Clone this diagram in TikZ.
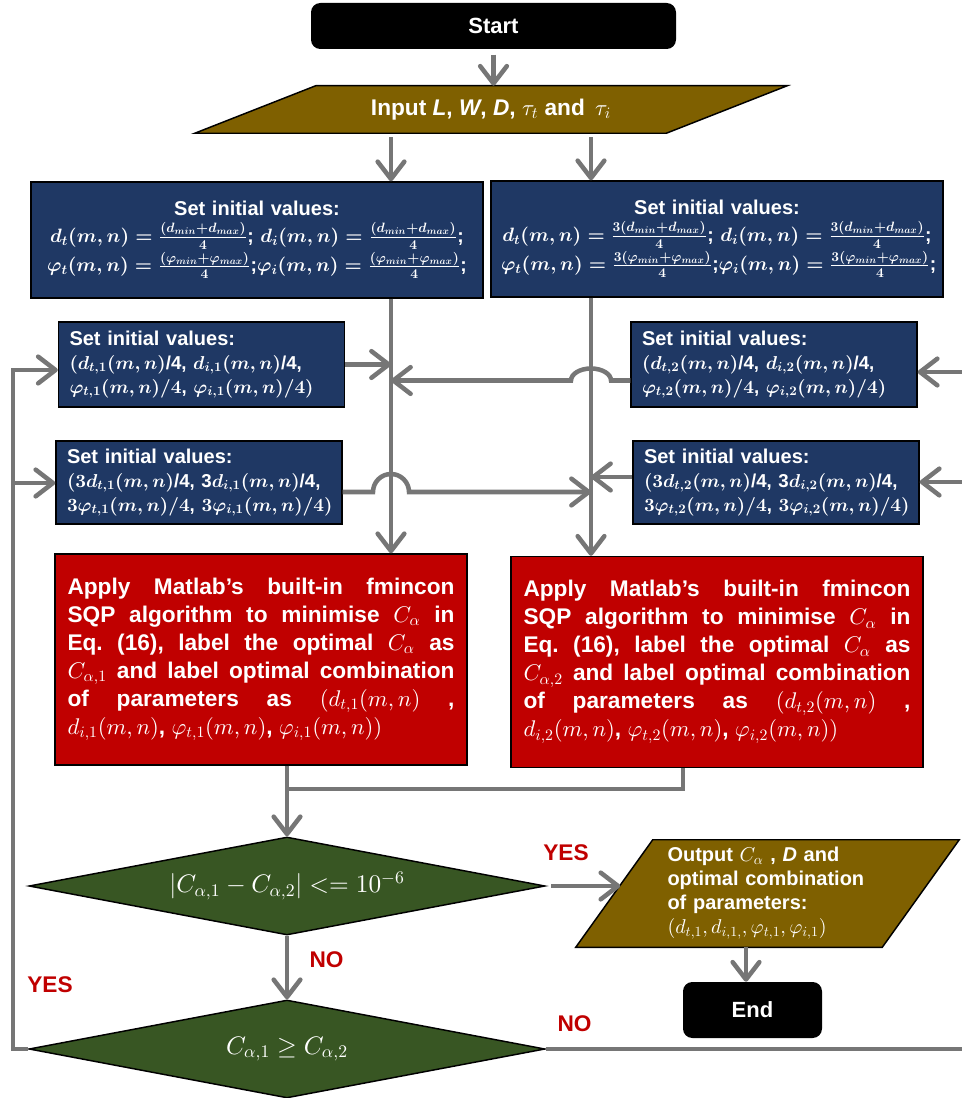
\documentclass[tikz,border=0pt]{standalone}
\usepackage{amsmath}
\usepackage[no-math]{fontspec}
\setmainfont{Liberation Sans}
\DeclareFontShape{OML}{cmm}{m}{it}{<->cmmi10}{}
\DeclareFontShape{OML}{cmm}{b}{it}{<->cmmib10}{}
\DeclareFontShape{OMS}{cmsy}{m}{n}{<->cmsy10}{}
\DeclareFontShape{OMS}{cmsy}{b}{n}{<->cmbsy10}{}
\DeclareFontShape{OT1}{cmr}{m}{n}{<->cmr10}{}
\DeclareFontShape{OT1}{cmr}{bx}{n}{<->cmbx10}{}
\usetikzlibrary{arrows.meta,shapes.geometric,calc}
\definecolor{bblue}{HTML}{1F3864}
\definecolor{bred}{HTML}{C00000}
\definecolor{bgreen}{HTML}{385623}
\definecolor{bolive}{HTML}{7F6000}
\definecolor{lgray}{HTML}{767676}
\definecolor{lblred}{HTML}{C00000}
\newlength\pxu
\setlength\pxu{0.75pt}
\newcommand\mathline[1]{{\fontsize{14.5}{18}\selectfont\mbox{#1}}}
\newcommand\smline[1]{{\fontsize{14}{17}\selectfont\mbox{#1}}}
\pgfdeclarelayer{bg}
\pgfsetlayers{bg,main}
\frenchspacing
\begin{document}
\begin{tikzpicture}[x=0.75pt,y=-0.75pt,
  every node/.style={text=white, font=\bfseries},
  lnk/.style={draw=lgray, line width=3.4pt},
  arr/.style={lnk,-{Straight Barb[round,length=13pt,width=20pt]}},
  term/.style={fill=black, rounded corners=7pt, inner sep=0pt},
  bigbox/.style={fill=bblue, draw=black, line width=1.1pt, align=center, inner xsep=10\pxu, inner ysep=0pt, text width=432\pxu, minimum height=116\pxu, font=\bfseries\boldmath\fontsize{15}{19}\selectfont},
  smallbox/.style={fill=bblue, draw=black, line width=1.1pt, align=left, inner xsep=11\pxu, inner ysep=0pt, text width=264\pxu, font=\bfseries\boldmath\fontsize{15}{18}\selectfont},
  redbox/.style={fill=bred, draw=black, line width=1.1pt, align=justify, inner xsep=12.5\pxu, inner ysep=0pt, text width=387\pxu, minimum height=211\pxu, font=\bfseries\fontsize{17}{21}\selectfont},
  decision/.style={diamond, fill=bgreen, draw=black, line width=1.1pt, aspect=5.3, inner sep=0pt, minimum width=516\pxu, minimum height=98\pxu, font=\fontsize{19}{22}\selectfont},
  pgram/.style={fill=bolive, draw=black, line width=1.1pt},
  lbl/.style={text=lblred, font=\bfseries\fontsize{17}{20}\selectfont},
]
\useasboundingbox (0,0) rectangle (962,1098);
\clip (0,0) rectangle (962,1098);

% vertical line positions
\coordinate (Lx) at (391,0);
\coordinate (Rx) at (591,0);
\coordinate (LL) at (13,0);
\coordinate (RR) at (972,0);
\coordinate (ex) at (746,0);

% nodes
\node[term, minimum width=365\pxu, minimum height=46\pxu, font=\bfseries\fontsize{16.5}{20}\selectfont] (start) at (493.5,26) {Start};

\node[inner sep=0pt, minimum width=592\pxu, minimum height=47\pxu, font=\bfseries\fontsize{17}{20}\selectfont] (input) at (491,109.5) {Input \textit{L}, \textit{W}, \textit{D}, $\tau_t$ and\, $\tau_i$};

\node[bigbox] (b1) at (257,240) {Set initial values:\\[1pt]
\mathline{$d_t(m,n)=\frac{(d_{min}+d_{max})}{4}$; $d_i(m,n)=\frac{(d_{min}+d_{max})}{4}$;}\\[1pt]
\mathline{$\varphi_t(m,n)=\frac{(\varphi_{min}+\varphi_{max})}{4}$;$\varphi_i(m,n)=\frac{(\varphi_{min}+\varphi_{max})}{4}$;}};

\node[bigbox] (b2) at (717,239) {Set initial values:\\[1pt]
\mathline{$d_t(m,n)=\frac{3(d_{min}+d_{max})}{4}$; $d_i(m,n)=\frac{3(d_{min}+d_{max})}{4}$;}\\[1pt]
\mathline{$\varphi_t(m,n)=\frac{3(\varphi_{min}+\varphi_{max})}{4}$;$\varphi_i(m,n)=\frac{3(\varphi_{min}+\varphi_{max})}{4}$;}};

\node[smallbox, minimum height=85\pxu] (s1) at (201.5,364.5) {Set initial values:\\
\smline{$(d_{t,1}(m,n)$/4, $d_{i,1}(m,n)$/4,}\\
\smline{$\varphi_{t,1}(m,n)/4$, $\varphi_{i,1}(m,n)/4)$}};

\node[smallbox, minimum height=85\pxu] (s2) at (774,364.5) {Set initial values:\\
\smline{$(d_{t,2}(m,n)$/4, $d_{i,2}(m,n)$/4,}\\
\smline{$\varphi_{t,2}(m,n)/4$, $\varphi_{i,2}(m,n)/4)$}};

\node[smallbox, minimum height=83\pxu] (s3) at (199,482.5) {Set initial values:\\
\smline{$(3d_{t,1}(m,n)$/4, 3$d_{i,1}(m,n)$/4,}\\
\smline{$3\varphi_{t,1}(m,n)/4$, $3\varphi_{i,1}(m,n)/4)$}};

\node[smallbox, minimum height=83\pxu] (s4) at (776,482.5) {Set initial values:\\
\smline{$(3d_{t,2}(m,n)$/4, 3$d_{i,2}(m,n)$/4,}\\
\smline{$3\varphi_{t,2}(m,n)/4$, $3\varphi_{i,2}(m,n)/4)$}};

\node[redbox] (r1) at (261,659.5) {Apply Matlab’s built-in fmincon\linebreak
SQP algorithm to minimise $C_\alpha$ in\linebreak
Eq. (16), label the optimal $C_\alpha$ as\linebreak
$C_{\alpha,1}$ and label optimal combination\linebreak
of parameters as $(d_{t,1}(m,n)$ ,\linebreak
$d_{i,1}(m,n)$, $\varphi_{t,1}(m,n)$, $\varphi_{i,1}(m,n))$};

\node[redbox] (r2) at (717,662) {Apply Matlab’s built-in fmincon\linebreak
SQP algorithm to minimise $C_\alpha$ in\linebreak
Eq. (16), label the optimal $C_\alpha$ as\linebreak
$C_{\alpha,2}$ and label optimal combination\linebreak
of parameters as $(d_{t,2}(m,n)$ ,\linebreak
$d_{i,2}(m,n)$, $\varphi_{t,2}(m,n)$, $\varphi_{i,2}(m,n))$};

\node[decision] (d1) at (287,886) {$\left|C_{\alpha,1}-C_{\alpha,2}\right| <= 10^{-6}$};
\node[decision] (d2) at (287,1049) {$C_{\alpha,1}\geq C_{\alpha,2}$};

\node[inner sep=0pt, minimum width=383\pxu, minimum height=107\pxu, align=left, text width=200\pxu, font=\bfseries\fontsize{15}{18}\selectfont] (outp) at (767.5,893.5) {Output $C_\alpha$ , \textit{D} and\\
optimal combination\\
of parameters:\\
$(d_{t,1}, d_{i,1,}, \varphi_{t,1}, \varphi_{i,1})$};

\node[term, minimum width=139\pxu, minimum height=56\pxu, font=\bfseries\fontsize{16.5}{20}\selectfont] (end) at (752.5,1010) {End};

% parallelograms (background)
\coordinate (otl) at ($(outp.north west)+(77,0)$);
\coordinate (obr) at ($(outp.south east)+(-77,0)$);
\coordinate (oin) at ($(outp.south west)!0.579!(otl)$);
\begin{pgfonlayer}{bg}
\draw[pgram] ($(input.north west)+(121,0)$) -- (input.north east) -- ($(input.south east)+(-121,0)$) -- (input.south west) -- cycle;
\draw[pgram] (otl) -- (outp.north east) -- (obr) -- (outp.south west) -- cycle;
\end{pgfonlayer}

% labels
\node[lbl] (yes1) at (566,853) {YES};
\node[lbl] (no1) at (326.5,960) {NO};
\node[lbl] (yes2) at (50,985) {YES};
\node[lbl] (no2) at (574.5,1024) {NO};

% connectors
\draw[arr, shorten <=4pt] (start.south) -- (start.south |- input.north);
\draw[arr, shorten <=3pt] (input.south -| Lx) -- (b1.north -| Lx);
\draw[arr, shorten <=3pt] (input.south -| Rx) -- (b2.north -| Rx);
\draw[arr] (b1.south -| Lx) -- (r1.north -| Lx);
\draw[arr] (b2.south -| Rx) -- (r2.north -| Rx);

\draw[arr] (s1.east) -- (s1.east -| Lx);
\coordinate (s2o) at ($(s2.west)+(0,16)$);
\coordinate (j2) at (s2o -| Rx);
\draw[arr] (s2o) -- ($(j2)+(20,0)$) arc[start angle=0,end angle=180,x radius=15pt,y radius=9pt] -- (s2o -| Lx);
\coordinate (s3o) at ($(s3.east)+(0,9.5)$);
\coordinate (j3) at (s3o -| Lx);
\draw[arr] (s3o) -- ($(j3)+(-18,0)$) arc[start angle=180,end angle=0,radius=13.5pt] -- (s3o -| Rx);
\coordinate (s4o) at ($(s4.west)+(0,-5.5)$);
\draw[arr] (s4o) -- (s4o -| Rx);

% left loop
\coordinate (s1a) at ($(s1.west)+(0,5.5)$);
\coordinate (s3a) at ($(s3.west)+(0,0.5)$);
\draw[arr] (d2.west) -- (d2.west -| LL) -- (s1a -| LL) -- (s1a);
\draw[arr] (s3a -| LL) -- (s3a);

% right loop
\coordinate (s2a) at ($(s2.east)+(0,7.5)$);
\coordinate (s4a) at ($(s4.east)+(0,-0.5)$);
\draw[arr] (d2.east) -- (d2.east -| RR) -- (s2a -| RR) -- (s2a);
\draw[arr] (s4a -| RR) -- (s4a);

% red boxes to decision
\coordinate (r2x) at (683,789);
\draw[arr] (r1.south -| d1.north) -- (d1.north);
\draw[lnk] (r2.south -| r2x) -- (r2x) -- (r2x -| d1.north);
\draw[arr] (d1.south) -- (d2.north);
\draw[arr, shorten <=4pt] (d1.east) -- (d1.east -| oin);
\draw[arr] (outp.south -| ex) -- (end.north -| ex);
\end{tikzpicture}
\end{document}
